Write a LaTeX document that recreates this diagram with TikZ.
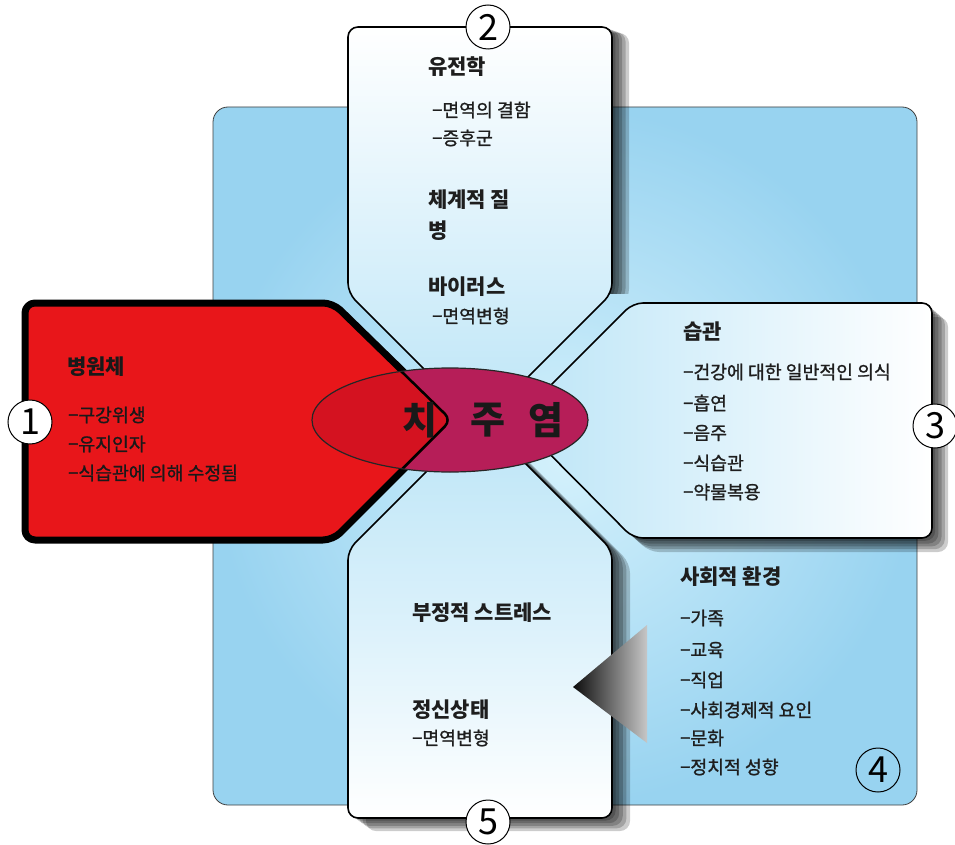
\documentclass[tikz,border=0pt]{standalone}
\usepackage{fontspec}
\setmainfont{Noto Sans CJK KR}
\newfontfamily\medfont{Noto Sans CJK KR}[FakeBold=1.1]
\definecolor{bgblue}{RGB}{152,211,240}
\definecolor{bginner}{RGB}{212,241,252}
\definecolor{boxblue}{RGB}{188,229,247}
\definecolor{redbox}{RGB}{232,22,26}
\definecolor{redin}{RGB}{212,18,32}
\definecolor{ellmag}{RGB}{182,30,88}
\definecolor{txt}{RGB}{30,30,30}
\newcommand\shapeTop{(480,425) -- (348,293) -- (348,27) -- (612,27) -- (612,293) -- cycle}
\newcommand\shapeLeft{(453,420) -- (333,540) -- (25,540) -- (25,303) -- (333,303) -- cycle}
\newcommand\shapeRight{(516,420) -- (633,303) -- (932,303) -- (932,538) -- (633,538) -- cycle}
\newcommand\shapeBottom{(480,418) -- (612,550) -- (612,818) -- (348,818) -- (348,550) -- cycle}
\begin{document}
\begin{tikzpicture}[x=1pt,y=-1pt,
  head/.style={anchor=west,inner sep=0pt,text=txt,font=\bfseries\fontsize{21}{24}\selectfont},
  item/.style={anchor=west,inner sep=0pt,text=txt,font=\medfont\fontsize{18.3}{20}\selectfont},
  num/.style={circle,draw=black,line width=1pt,fill=white,minimum size=44pt,inner sep=0pt,font=\fontsize{36}{36}\selectfont},
  big/.style={inner sep=0pt,text=black!90,font=\bfseries\fontsize{38}{40}\selectfont},
  boxline/.style={draw=black,line width=1.6pt,rounded corners=10pt},
  shadowlayer/.style={fill=black,opacity=0.2,rounded corners=10pt}]
\useasboundingbox (0,0) rectangle (955,845);
\fill[white] (0,0) rectangle (955,845);
% background
\shadedraw[draw=black!75,line width=0.8pt,rounded corners=15pt,inner color=bginner,outer color=bgblue] (213,107) rectangle (917,805);
% shadows
\begin{scope}
\clip (0,0) rectangle (955,293);
\foreach \k in {1,...,5} \fill[shadowlayer,shift={(\k*3.4,\k*1.2)}] \shapeTop;
\end{scope}
\foreach \k in {1,...,5} \fill[shadowlayer,shift={(\k*3.2,\k*2.8)}] \shapeRight;
\foreach \k in {1,...,5} \fill[shadowlayer,shift={(\k*3.6,\k*2.6)}] \shapeBottom;
% boxes
\shadedraw[boxline,top color=white,bottom color=boxblue] \shapeTop;
\shadedraw[boxline,top color=boxblue,bottom color=white,middle color=white!45!boxblue] \shapeBottom;
\shadedraw[boxline,left color=boxblue,right color=white] \shapeRight;
\fill[redbox,rounded corners=10pt] \shapeLeft;
\draw[line width=7pt,rounded corners=10pt,line join=round] \shapeLeft;
% gray pointer
\shade[left color=black!95,right color=black!22] (573,687) -- (647,625) -- (647,743) -- cycle;
% centre ellipse
\fill[ellmag] (450,420) ellipse [x radius=138,y radius=52];
\begin{scope}
\clip[rounded corners=10pt] \shapeLeft;
\fill[redin] (450,420) ellipse [x radius=138,y radius=52];
\draw[line width=5pt,rounded corners=10pt] \shapeLeft;
\end{scope}
\draw[line width=1.2pt,black!85] (450,420) ellipse [x radius=138,y radius=52];
\node[big] (c1) at (420,420) {치};
\node[big] (c2) at (488,420) {주};
\node[big] (c3) at (546,420) {염};
% top box texts
\node[head] (t1) at (428,67) {유전학};
\node[item] (t2) at (432,110) {−면역의 결함};
\node[item] (t3) at (432,138) {−증후군};
\node[head,align=left,font=\bfseries\fontsize{21}{31}\selectfont] (t4) at (428,215) {체계적 질\\병};
\node[head] (t5) at (428,287) {바이러스};
\node[item] (t6) at (432,316) {−면역변형};
% left box texts
\node[head,text=black!90] (l1) at (67,367) {병원체};
\node[item,text=black!90] (l2) at (68,415) {−구강위생};
\node[item,text=black!90] (l3) at (68,444) {−유지인자};
\node[item,text=black!90] (l4) at (68,473) {−식습관에 의해 수정됨};
% right box texts
\node[head] (r1) at (683,332) {습관};
\node[item] (r2) at (683,372) {−건강에 대한 일반적인 의식};
\node[item] (r3) at (683,403) {−흡연};
\node[item] (r4) at (683,433) {−음주};
\node[item] (r5) at (683,463) {−식습관};
\node[item] (r6) at (683,492) {−약물복용};
% social environment texts
\node[head] (s1) at (680,577) {사회적 환경};
\node[item] (s2) at (680,618) {−가족};
\node[item] (s3) at (680,650) {−교육};
\node[item] (s4) at (680,680) {−직업};
\node[item] (s5) at (680,710) {−사회경제적 요인};
\node[item] (s6) at (680,738) {−문화};
\node[item] (s7) at (680,767) {−정치적 성향};
% bottom box texts
\node[head] (b1) at (412,613) {부정적 스트레스};
\node[head] (b2) at (412,710) {정신상태};
\node[item] (b3) at (412,738) {−면역변형};
% number circles
\node[num] (n1) at (30,422) {1};
\node[num] (n2) at (488,27) {2};
\node[num] (n3) at (935,426) {3};
\node[num,fill=none] (n4) at (878,770) {4};
\node[num] (n5) at (488,822) {5};
\end{tikzpicture}
\end{document}
